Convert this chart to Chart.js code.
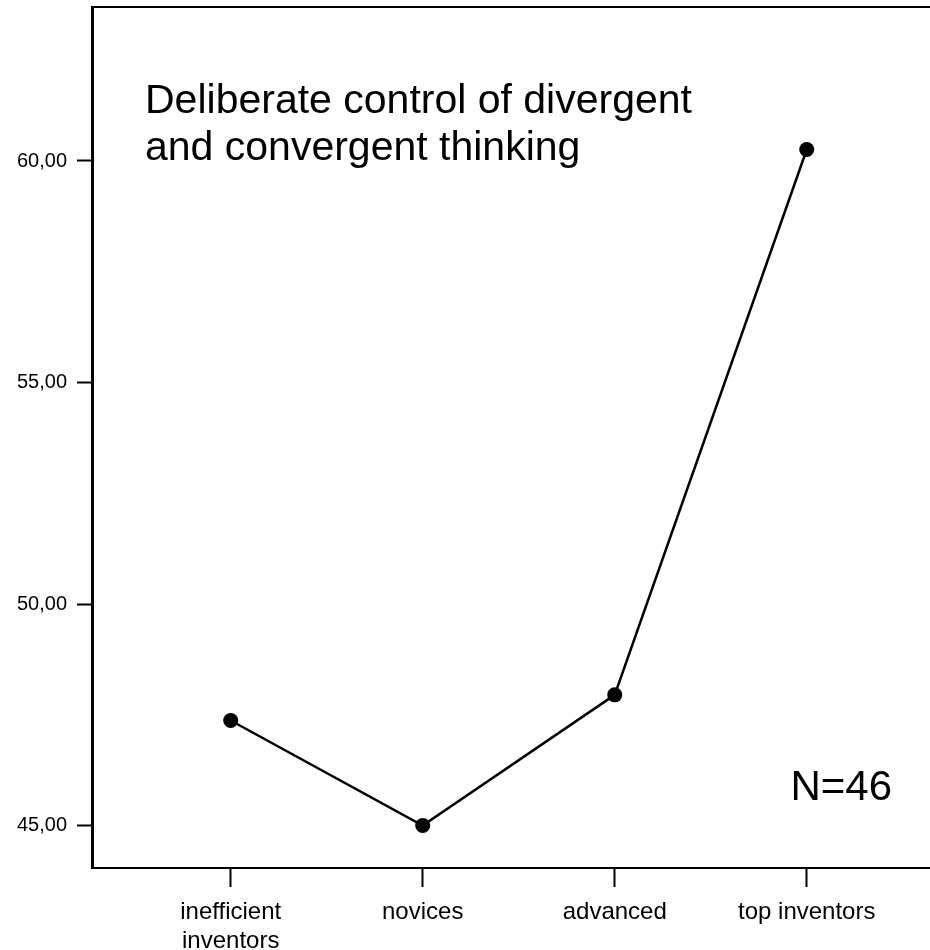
<!DOCTYPE html>
<html><head><meta charset="utf-8">
<script src="https://cdn.jsdelivr.net/npm/chart.js@4/dist/chart.umd.min.js"></script>
<style>html,body{margin:0;padding:0;background:#fff}</style>
</head><body>
<canvas id="c" width="930" height="950" style="display:block;width:930px;height:950px"></canvas>
<script>
// ---- data ----
const categories = [['inefficient', 'inventors'], 'novices', 'advanced', 'top inventors'];
const values = [47.37, 45.00, 47.95, 60.26];
const yTickValues = [45, 50, 55, 60];
const titleLines = ['Deliberate control of divergent', 'and convergent thinking'];
const noteText = 'N=46';

const FONT = '"Liberation Sans", Arial, sans-serif';

const textPlugin = {
  id: 'texts',
  afterDraw(chart) {
    const ctx = chart.ctx, ca = chart.chartArea;
    ctx.save();
    // top frame line
    ctx.fillStyle = '#000';
    ctx.fillRect(ca.left - 1, ca.top - 1, ca.right - ca.left + 1, 2);
    // title
    ctx.font = '41px ' + FONT;
    ctx.textAlign = 'left';
    ctx.textBaseline = 'alphabetic';
    ctx.fillText(titleLines[0], ca.left + 53, ca.top + 106);
    ctx.fillText(titleLines[1], ca.left + 53, ca.top + 153);
    // note
    ctx.font = '42px ' + FONT;
    ctx.textAlign = 'right';
    ctx.fillText(noteText, ca.right - 38, ca.bottom - 68);
    ctx.restore();
  }
};

const noPad = s => { s.paddingTop = 0; s.paddingBottom = 0; s.paddingLeft = 0; s.paddingRight = 0; };

new Chart(document.getElementById('c'), {
  type: 'line',
  data: {
    datasets: [{
      data: values.map((v, i) => ({ x: i, y: v })),
      borderColor: '#000',
      borderWidth: 2.5,
      pointRadius: 7.5,
      pointBackgroundColor: '#000',
      pointBorderColor: '#000',
      pointBorderWidth: 0,
      tension: 0,
      clip: false
    }]
  },
  options: {
    responsive: false,
    animation: false,
    layout: { autoPadding: false, padding: { top: 7, right: 0, left: 0, bottom: 0 } },
    plugins: { legend: { display: false }, tooltip: { enabled: false } },
    scales: {
      x: {
        type: 'linear',
        min: -0.7224,
        max: 3.642,
        afterBuildTicks: s => { s.ticks = categories.map((c, i) => ({ value: i })); },
        afterFit: s => { s.height = 82; noPad(s); },
        ticks: {
          callback: v => categories[v],
          color: '#000',
          font: { family: FONT, size: 24 },
          padding: 11,
          maxRotation: 0,
          autoSkip: false
        },
        grid: { display: true, drawOnChartArea: false, drawTicks: true, tickLength: 19, tickWidth: 2, tickColor: '#000' },
        border: { display: true, color: '#000', width: 2 }
      },
      y: {
        min: 44.041,
        max: 63.476,
        afterBuildTicks: s => { s.ticks = yTickValues.map(v => ({ value: v })); },
        afterFit: s => { s.width = 92; noPad(s); },
        ticks: {
          callback: v => Number(v).toFixed(2).replace('.', ','),
          color: '#000',
          font: { family: FONT, size: 20 },
          padding: 10,
          autoSkip: false
        },
        grid: { display: true, drawOnChartArea: false, drawTicks: true, tickLength: 15, tickWidth: 2, tickColor: '#000' },
        border: { display: true, color: '#000', width: 3 }
      }
    }
  },
  plugins: [textPlugin]
});
</script>
</body></html>
